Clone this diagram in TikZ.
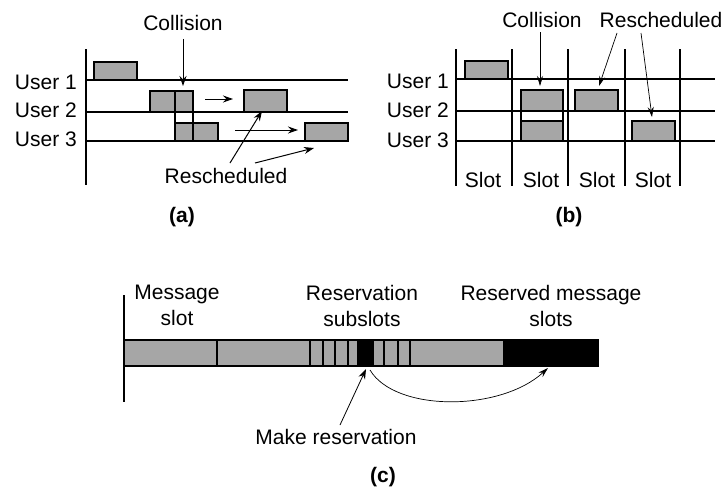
\documentclass[tikz,border=0pt]{standalone}
\usepackage{fontspec}
\setmainfont{Liberation Sans}
\usetikzlibrary{arrows.meta}
\begin{document}
\begin{tikzpicture}[x=1pt,y=-1pt,
  ln/.style={line width=1.1pt},
  pkt/.style={draw, line width=1.1pt, fill=black!35},
  arr/.style={line width=1pt, -{Stealth[length=10pt,width=7pt]}},
  tarr/.style={line width=0.7pt, -{Stealth[length=10pt,width=6pt]}},
  lab/.style={font=\fontsize{21}{26}\selectfont, inner sep=0pt},
  blab/.style={font=\fontsize{21}{26}\selectfont\bfseries, inner sep=0pt},
  ]
\useasboundingbox (0,0) rectangle (728,493);

% ---------------- (a) ----------------
\draw[ln] (86,49) -- (86,185);
\foreach \y in {80,112,141} \draw[ln] (86,\y) -- (348,\y);
\node[lab, anchor=east] (ua1) at (77,82) {User 1};
\node[lab, anchor=east] (ua2) at (77,110) {User 2};
\node[lab, anchor=east] (ua3) at (77,139) {User 3};
\draw[pkt] (94,62) rectangle (137,80);
\draw[pkt] (150,91) rectangle (193,112);
\draw[pkt] (175,123) rectangle (218,141);
\draw[ln] (175,91) rectangle (193,141);
\draw[pkt] (244,90) rectangle (287,112);
\draw[pkt] (305,123) rectangle (348,141);
\coordinate (m1s) at (205,99); \coordinate (m1e) at (233,99);
\coordinate (m2s) at (235,130); \coordinate (m2e) at (298,130);
\draw[arr] (m1s) -- (m1e);
\draw[arr] (m2s) -- (m2e);
\node[lab] (ca) at (183,23) {Collision};
\coordinate (cat) at (183,86);
\draw[arr] ([yshift=-8pt]ca.south) -- (cat);
\node[lab] (ra) at (226,176) {Rescheduled};
\coordinate (ra1s) at (230,163); \coordinate (ra1e) at (262,111);
\coordinate (ra2s) at (255,163); \coordinate (ra2e) at (314,148);
\draw[arr] (ra1s) -- (ra1e);
\draw[arr] (ra2s) -- (ra2e);
\node[blab] (la) at (182,217) {(a)};

% ---------------- (b) ----------------
\foreach \x in {456,512,568,625,680} \draw[ln] (\x,49) -- (\x,186);
\foreach \y in {79,111,141} \draw[ln] (456,\y) -- (715,\y);
\node[lab, anchor=east] (ub1) at (449,81) {User 1};
\node[lab, anchor=east] (ub2) at (449,110) {User 2};
\node[lab, anchor=east] (ub3) at (449,140) {User 3};
\draw[pkt] (465,61) rectangle (508,79);
\draw[pkt] (521,90) rectangle (563,111);
\draw[pkt] (521,121) rectangle (563,141);
\draw[ln] (521,90) rectangle (563,141);
\draw[pkt] (575,90) rectangle (618,111);
\draw[pkt] (632,121) rectangle (675,141);
\node[lab] (s1) at (483,180) {Slot};
\node[lab] (s2) at (541,180) {Slot};
\node[lab] (s3) at (597,180) {Slot};
\node[lab] (s4) at (653,180) {Slot};
\node[lab] (cb) at (542,20) {Collision};
\node[lab] (rb) at (661,20) {Rescheduled};
\coordinate (cbs) at (540,32); \coordinate (cbt) at (540,86);
\coordinate (rb1s) at (617,33); \coordinate (rb1t) at (599,86);
\coordinate (rb2s) at (641,33); \coordinate (rb2t) at (652,117);
\draw[tarr] (cbs) -- (cbt);
\draw[tarr] (rb1s) -- (rb1t);
\draw[tarr] (rb2s) -- (rb2t);
\node[blab] (lb) at (569,217) {(b)};

% ---------------- (c) ----------------
\draw[ln] (124,295) -- (124,402);
\fill[black!35] (124,340) rectangle (503,366);
\fill (503,340) rectangle (598,366);
\fill (357,340) rectangle (374,366);
\foreach \x in {217,310,323,335,348,384,398,410} \draw[line width=1.3pt] (\x,340) -- (\x,366);
\draw[ln] (124,340) rectangle (598,366);
\coordinate (subs) at (366,366);
\coordinate (resv) at (548,368);
\node[lab, align=center, anchor=north] (msg) at (177,285) {Message\\slot};
\node[lab, align=center, anchor=north] (rsub) at (362,285) {Reservation\\subslots};
\node[lab, align=center, anchor=north] (rmsg) at (551,285) {Reserved message\\slots};
\draw[tarr] ([xshift=4pt,yshift=-4pt]subs) .. controls (395,412) and (500,412) .. (resv);
\node[lab] (mk) at (336,437) {Make reservation};
\coordinate (mks) at (340,425);
\draw[arr, line width=0.8pt] (mks) -- ([yshift=-3pt]subs);
\node[blab] (lc) at (383,477) {(c)};
\end{tikzpicture}
\end{document}
